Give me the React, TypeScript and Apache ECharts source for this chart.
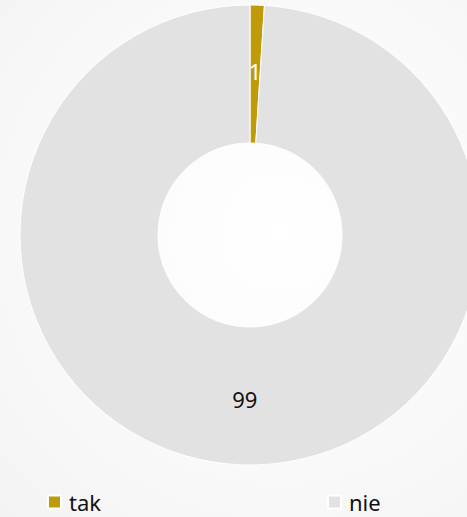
import React, { useEffect, useRef } from "react";
import * as echarts from "echarts";

const categories = ["tak", "nie"];
const values = [1, 99];
const colors = ["#BF9B09", "#E2E2E2"];
const labelColors = ["#FFFFFF", "#111111"];

export default function App() {
  const ref = useRef<HTMLDivElement>(null);
  useEffect(() => {
    if (!ref.current) return;
    const chart = echarts.init(ref.current, undefined, { renderer: "svg" });
    const font = "'Noto Sans', 'Open Sans', sans-serif";
    const legendBase = {
      top: 491,
      itemWidth: 13,
      itemHeight: 13,
      itemGap: 10,
      icon: "rect",
      textStyle: { fontSize: 22, color: "#111", fontFamily: font, padding: [0, 0, 0, 3] },
      padding: 0,
    };
    chart.setOption({
      animation: false,
      backgroundColor: "transparent",
      legend: [
        { ...legendBase, data: [categories[0]], left: 47 },
        { ...legendBase, data: [categories[1]], left: 327 },
      ],
      series: [
        {
          type: "pie",
          center: [250, 235],
          radius: [92, 230],
          startAngle: 90,
          clockwise: true,
          avoidLabelOverlap: false,
          label: {
            show: true,
            position: "inside",
            formatter: "{c}",
            fontSize: 22,
            fontFamily: font,
          },
          labelLine: { show: false },
          emphasis: { disabled: true },
          data: categories.map((name, i) => ({
            name,
            value: values[i],
            itemStyle: { color: colors[i], borderColor: "#FFFFFF", borderWidth: 1 },
            label: { color: labelColors[i] },
          })),
        },
      ],
    });
    return () => chart.dispose();
  }, []);
  return (
    <div
      ref={ref}
      style={{
        position: "absolute",
        left: 0,
        top: 0,
        width: 467,
        height: 517,
        background: "radial-gradient(circle at 60% 45%, #ffffff 0%, #f9f9f9 60%, #f3f3f3 100%)",
      }}
    />
  );
}
